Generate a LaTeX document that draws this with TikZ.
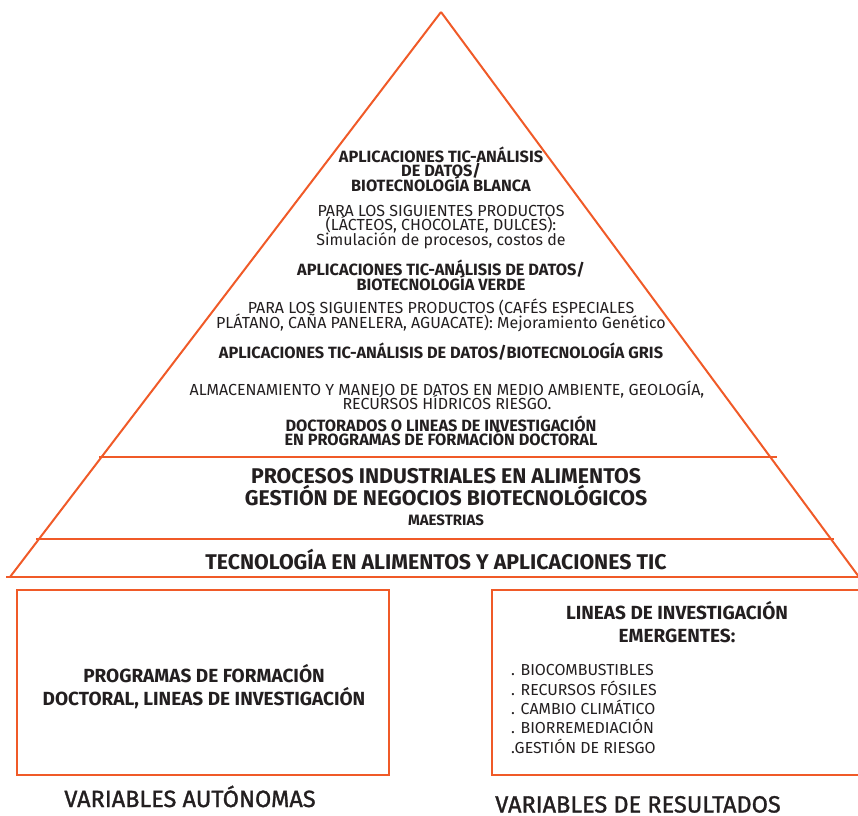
\documentclass[tikz,border=0pt]{standalone}
\usepackage{fontspec}
\setmainfont{Fira Sans}
\newfontfamily\medio{Fira Sans}[FakeBold=1.3]
\usepackage{xcolor}
\definecolor{naranja}{RGB}{240,90,40}
\definecolor{texto}{RGB}{35,31,32}
\AtBeginDocument{\lineskiplimit=-20pt}

\begin{document}
\begin{tikzpicture}[x=1pt, y=-1pt,
		linea/.style = {naranja, line width=2pt},
		negrita/.style = {font=\bfseries\fontsize{16.3}{14.5}\selectfont, align=center, text=texto, inner sep=0pt},
		normal/.style = {font=\fontsize{16}{14.5}\selectfont, align=center, text=texto, inner sep=0pt},
		grande/.style = {font=\bfseries\fontsize{21.3}{21.5}\selectfont, align=center, text=texto, inner sep=0pt},
		caja/.style = {font=\fontsize{19}{23}\selectfont, align=center, text=texto, inner sep=0pt}]
		\useasboundingbox (0,0) rectangle (858,815);
		% piramide
		\draw[linea] (441,12) -- (10,577);
		\draw[linea] (441,12) -- (862,581);
		\draw[linea] (6,577) -- (862,577);
		\draw[linea] (99,457) -- (777,457);
		\draw[linea] (36,539) -- (834,539);
		% nivel superior
		\node[negrita] (blanca) at (441,169) {APLICACIONES TIC-ANÁLISIS\\DE DATOS/\\BIOTECNOLOGÍA BLANCA};
		\node[normal] (lacteos) at (441,227) {PARA LOS SIGUIENTES PRODUCTOS\\(LÁCTEOS, CHOCOLATE, DULCES):\\Simulación de procesos, costos de};
		\node[negrita] (verde) at (441,275.5) {APLICACIONES TIC-ANÁLISIS DE DATOS/\\BIOTECNOLOGÍA VERDE};
		\node[normal] (cafes) at (441,315.5) {PARA LOS SIGUIENTES PRODUCTOS (CAFÉS ESPECIALES\\PLÁTANO, CAÑA PANELERA, AGUACATE): Mejoramiento Genético};
		\node[negrita] (gris) at (441,352) {APLICACIONES TIC-ANÁLISIS DE DATOS/BIOTECNOLOGÍA GRIS};
		\node[normal] (datos) at (447,395.5) {ALMACENAMIENTO Y MANEJO DE DATOS EN MEDIO AMBIENTE, GEOLOGÍA,\\RECURSOS HÍDRICOS RIESGO.};
		\node[negrita] (doctorados) at (441,431) {DOCTORADOS O LINEAS DE INVESTIGACIÓN\\EN PROGRAMAS DE FORMACIÓN DOCTORAL};
		% niveles inferiores
		\node[grande] (procesos) at (446,487) {PROCESOS INDUSTRIALES EN ALIMENTOS\\GESTIÓN DE NEGOCIOS BIOTECNOLÓGICOS};
		\node[negrita, font=\bfseries\fontsize{15}{15}\selectfont] (maestrias) at (446,520) {MAESTRIAS};
		\node[grande] (tecnologia) at (436,559) {TECNOLOGÍA EN ALIMENTOS Y APLICACIONES TIC};
		% cajas
		\draw[linea] (17,590) rectangle (389,775);
		\draw[linea] (492,590) rectangle (866,775);
		\node[caja, font=\bfseries\fontsize{19}{23}\selectfont] (programas) at (204,687) {PROGRAMAS DE FORMACIÓN\\DOCTORAL, LINEAS DE INVESTIGACIÓN};
		\node[caja, font=\bfseries\fontsize{19}{23}\selectfont] (emergentes) at (677,622) {LINEAS DE INVESTIGACIÓN\\EMERGENTES:};
		\node[caja, align=left, anchor=west, font=\fontsize{15.9}{19.3}\selectfont] (lista) at (511,709) {. BIOCOMBUSTIBLES\\. RECURSOS FÓSILES\\. CAMBIO CLIMÁTICO\\. BIORREMEDIACIÓN\\.GESTIÓN DE RIESGO};
		\node[caja, anchor=base, font=\medio\fontsize{23.5}{24}\selectfont] (autonomas) at (190,807) {VARIABLES AUTÓNOMAS};
		\node[caja, anchor=base, font=\medio\fontsize{23.5}{24}\selectfont] (resultados) at (638,812.5) {VARIABLES DE RESULTADOS};
	\end{tikzpicture}
\end{document}
